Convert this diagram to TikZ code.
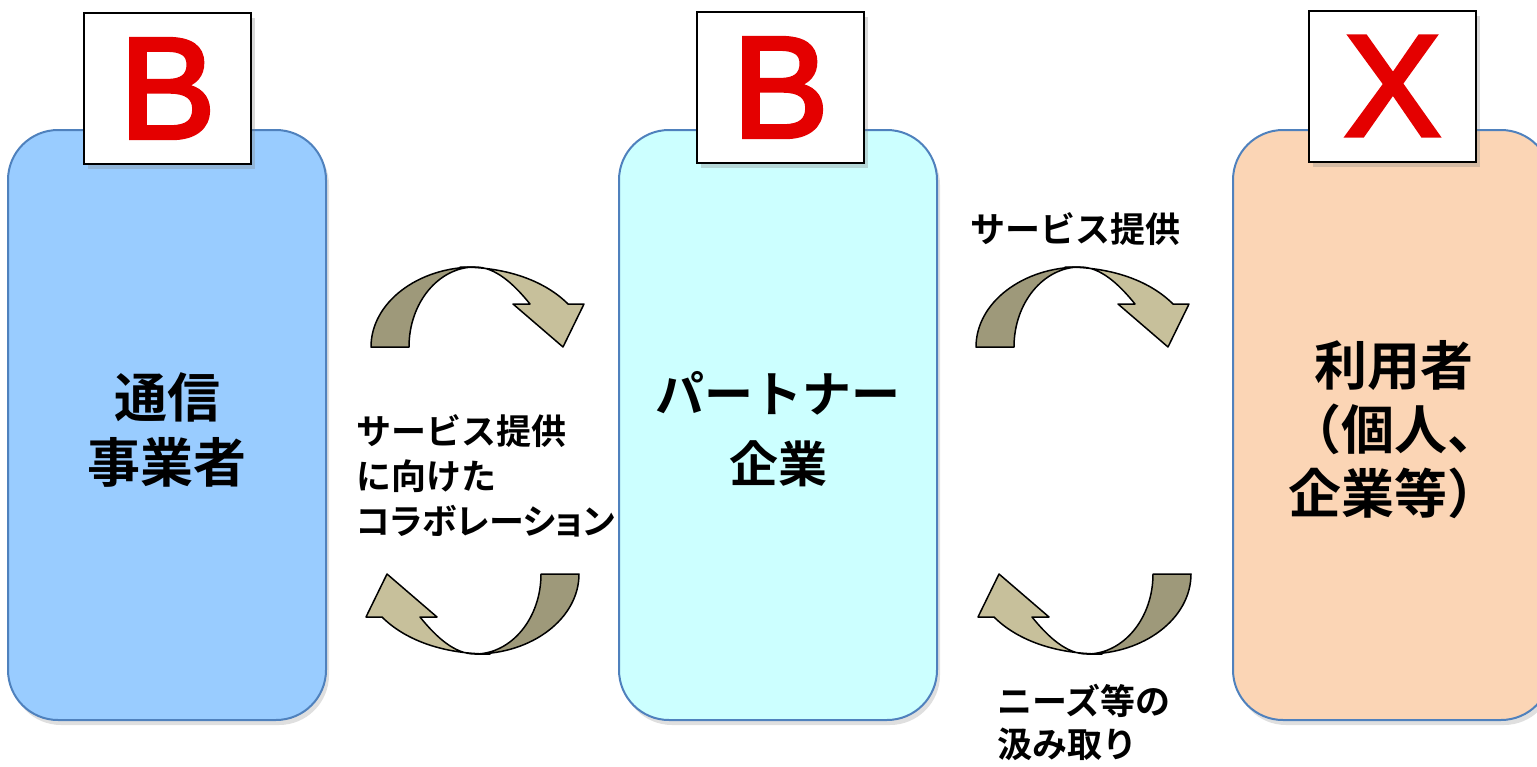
\documentclass[tikz,border=0pt]{standalone}
\usepackage{fontspec}
\newfontfamily\jp{Noto Sans CJK JP Bold}
\newfontfamily\latb{Liberation Sans}[FakeBold=3]
\usetikzlibrary{shadows}
\definecolor{boxA}{RGB}{153,204,255}
\definecolor{boxB}{RGB}{204,255,255}
\definecolor{boxC}{RGB}{251,213,181}
\definecolor{boxline}{RGB}{79,129,189}
\definecolor{arrdark}{RGB}{158,153,122}
\definecolor{arrlight}{RGB}{199,192,155}
\definecolor{letred}{RGB}{228,0,0}
\tikzset{
  bigbox/.style={draw=boxline, line width=2pt, rounded corners=50pt,
    minimum width=318pt, minimum height=590pt, inner sep=0pt,
    drop shadow={shadow xshift=3pt, shadow yshift=-5pt, opacity=0.25}},
  letterbox/.style={draw=black, line width=2pt, fill=white,
    minimum width=167pt, minimum height=151pt, inner sep=0pt,
    font=\latb\fontsize{144}{144}\selectfont, text=letred,
    drop shadow={shadow xshift=4pt, shadow yshift=-5pt, opacity=0.3}},
  jptext/.style={inner sep=0pt, text=black},
  carrow/.pic={
    \filldraw[fill=arrdark, draw=black, line width=1.5pt, line join=round]
      (0,80) .. controls (0,35.8) and (46.6,0) .. (104,0)
      .. controls (67.5,0) and (38,35.8) .. (38,80) -- cycle;
    \filldraw[fill=arrlight, draw=black, line width=1.5pt, line join=round]
      (89,0) .. controls (138,0) and (175,15) .. (197,37) -- (213,37) -- (192,80)
      -- (142,37) -- (159,37) .. controls (142,16) and (124,0) .. (104,0) -- cycle;
  }
}
\begin{document}
\begin{tikzpicture}[x=1pt,y=-1pt]
\useasboundingbox (0,0) rectangle (1537,766);
\clip (0,0) rectangle (1537,766);
% main boxes
\node[bigbox, fill=boxA] (tsushin) at (167,425) {};
\node[bigbox, fill=boxB] (partner) at (778,425) {};
\node[bigbox, fill=boxC] (user) at (1392,425) {};
% letter boxes
\node[letterbox] (b1) at (167.5,88.5) {B};
\node[letterbox] (b2) at (780.5,87.5) {B};
\node[letterbox] (x3) at (1392.5,86) {X};
% curved arrows
\pic at (371,267) {carrow};
\pic at (976,267) {carrow};
\pic[rotate=180] at (579,654) {carrow};
\pic[rotate=180] at (1191,654) {carrow};
% texts
\node[jptext, align=center, font={\jp\fontsize{53}{65}\selectfont}] (t1) at (167,430) {通信\\事業者};
\node[jptext, align=center, font={\jp\fontsize{49}{70}\selectfont}] (t2) at (778,429) {パートナー\\企業};
\node[jptext, align=center, font={\jp\fontsize{53}{64}\selectfont}] (t3) at (1394,430) {利用者\\（個人、\\企業等）};
\node[jptext, align=left, anchor=west, font={\jp\fontsize{35}{45}\selectfont}] (t4) at (356,476) {サービス提供\\に向けた\\{\addfontfeatures{RawFeature=+palt}コラボレーション}};
\node[jptext, font={\jp\fontsize{35}{42}\selectfont}] (t5) at (1075,229) {サービス提供};
\node[jptext, align=left, anchor=west, font={\jp\fontsize{35}{43}\selectfont}] (t6) at (997,722) {ニーズ等の\\汲み取り};
\end{tikzpicture}
\end{document}
